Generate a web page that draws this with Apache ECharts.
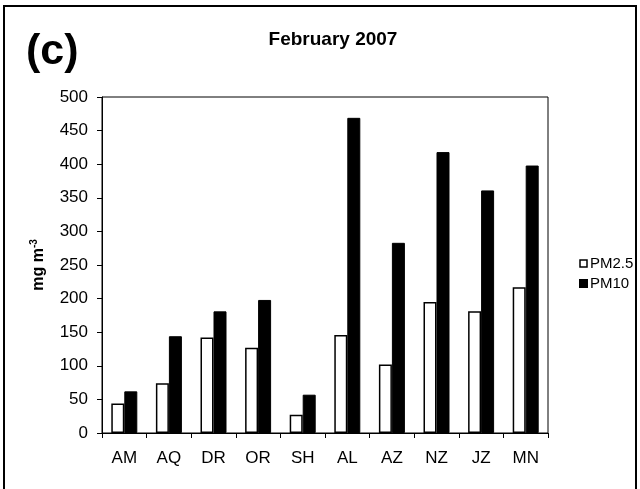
<!DOCTYPE html>
<html lang="en">
  <head>
    <meta charset="utf-8" />
    <title>February 2007</title>
    <script src="https://cdn.jsdelivr.net/npm/echarts@6/dist/echarts.min.js"></script>
  </head>
  <body style="margin:0; background:#fff;">
    <div id="main" style="width: 640px; height: 489px;"></div>
    <script type="text/javascript">
      const sites = ['AM', 'AQ', 'DR', 'OR', 'SH', 'AL', 'AZ', 'NZ', 'JZ', 'MN'];
      const pm25 = [44, 74, 142, 127, 27, 146, 102, 195, 181, 217];
      const pm10 = [62, 144, 181, 198, 57, 469, 283, 418, 361, 398];
      const yTicks = [0, 500, 50];

      const font = 'Liberation Sans, Arial, sans-serif';
      const myChart = echarts.init(document.getElementById('main'));

      const option = {
        backgroundColor: '#fff',
        animation: false,
        title: [
          {
            text: 'February 2007',
            left: 328, top: 25, textAlign: 'center',
            textStyle: { fontFamily: font, fontSize: 19, fontWeight: 'bold', color: '#000' }
          },
          {
            text: '(c)',
            left: 21, top: 26,
            textStyle: { fontFamily: font, fontSize: 43, fontWeight: 'bold', color: '#000' }
          }
        ],
        graphic: [{
          type: 'rect',
          shape: { x: 4, y: 6, width: 632, height: 500 },
          style: { fill: 'none', stroke: '#000', lineWidth: 2 },
          silent: true
        }],
        legend: {
          orient: 'vertical',
          left: 574, top: 251,
          itemWidth: 7, itemHeight: 7, itemGap: 5,
          icon: 'rect',
          textStyle: { fontFamily: font, fontSize: 15, color: '#000', padding: [0, 0, 0, -2] },
          data: [
            { name: 'PM2.5', itemStyle: { color: '#fff', borderColor: '#000', borderWidth: 1.5 } },
            { name: 'PM10', itemStyle: { color: '#000' } }
          ]
        },
        grid: {
          left: 102, right: 92, top: 97, bottom: 56,
          show: true, borderColor: '#000', borderWidth: 1
        },
        xAxis: {
          type: 'category',
          data: sites,
          axisLine: { lineStyle: { color: '#000', width: 1 } },
          axisTick: { show: true, length: 5, inside: false, lineStyle: { color: '#000' } },
          axisLabel: { fontFamily: font, fontSize: 17, color: '#000', margin: 17 }
        },
        yAxis: {
          type: 'value',
          min: yTicks[0], max: yTicks[1], interval: yTicks[2],
          splitLine: { show: false },
          axisLine: { show: true, lineStyle: { color: '#000', width: 1 } },
          axisTick: { show: true, length: 5, lineStyle: { color: '#000' } },
          axisLabel: { fontFamily: font, fontSize: 17, color: '#000', margin: 14 },
          name: '{a|mg m}{s|-3}',
          nameLocation: 'middle',
          nameGap: 54,
          nameRotate: 90,
          nameTextStyle: {
            rich: {
              a: { fontFamily: font, fontSize: 16, fontWeight: 'bold', color: '#000' },
              s: { fontFamily: font, fontSize: 10, fontWeight: 'bold', color: '#000', padding: [0, 0, 9, 0] }
            }
          }
        },
        series: [
          {
            name: 'PM2.5', type: 'bar', data: pm25,
            barWidth: 13, barGap: '0%',
            itemStyle: { color: '#fff', borderColor: '#000', borderWidth: 1.5 }
          },
          {
            name: 'PM10', type: 'bar', data: pm10,
            barWidth: 13,
            itemStyle: { color: '#000', borderColor: '#000', borderWidth: 1 }
          }
        ]
      };
      myChart.setOption(option);
    </script>
  </body>
</html>
